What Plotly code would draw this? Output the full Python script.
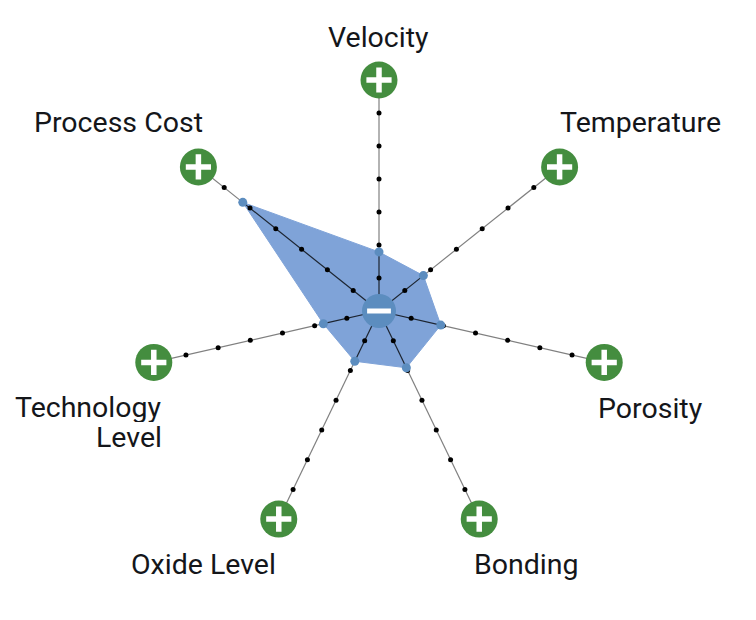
import plotly.graph_objects as go

categories = ["Velocity", "Temperature", "Porosity", "Bonding", "Oxide Level", "Technology Level", "Process Cost"]
values = [1.79, 1.72, 1.92, 1.91, 1.69, 1.73, 5.28]
tick_steps = [1, 2, 3, 4, 5, 6]
outer_level = 7
center_level = 0

W, H = 756, 620
CX, CY, R = 379, 311, 264.0   # centre and radius (px) of the polar area
BLUE_FILL = "#7FA3D8"
BLUE_DARK = "#5C8DBF"
GREEN = "#448D3F"

fig = go.Figure()
fig.add_trace(go.Scatterpolar(
    theta=categories + categories[:1], r=values + values[:1], mode="lines",
    fill="toself", fillcolor=BLUE_FILL, line=dict(color=BLUE_FILL, width=1), hoverinfo="skip"))

for c, v in zip(categories, values):
    fig.add_trace(go.Scatterpolar(theta=[c, c], r=[center_level, v], mode="lines",
                                  line=dict(color="#1c2430", width=1.2), hoverinfo="skip"))
    fig.add_trace(go.Scatterpolar(theta=[c, c], r=[v, outer_level], mode="lines",
                                  line=dict(color="#808080", width=1.2), hoverinfo="skip"))
    fig.add_trace(go.Scatterpolar(theta=[c] * len(tick_steps), r=tick_steps, mode="markers",
                                  marker=dict(color="#000000", size=5), hoverinfo="skip"))

fig.add_trace(go.Scatterpolar(theta=categories, r=values, mode="markers",
                              marker=dict(color=BLUE_DARK, size=9), hovertemplate="%{theta}: %{r}<extra></extra>"))

# centre minus badge
fig.add_trace(go.Scatterpolar(theta=categories[:1], r=[center_level], mode="markers",
                              marker=dict(color=BLUE_DARK, size=34), hoverinfo="skip"))
fig.add_trace(go.Scatterpolar(theta=categories[:1], r=[center_level], mode="markers",
                              marker=dict(symbol="line-ew", size=17, line=dict(color="white", width=5)), hoverinfo="skip"))

# outer plus badges
fig.add_trace(go.Scatterpolar(theta=categories, r=[outer_level] * 7, mode="markers",
                              marker=dict(color=GREEN, size=37), hoverinfo="skip"))
fig.add_trace(go.Scatterpolar(theta=categories, r=[outer_level] * 7, mode="markers",
                              marker=dict(symbol="cross-thin", size=18, line=dict(color="white", width=5.5)), hoverinfo="skip"))

label_pos = [
    ("Velocity", 379, 37, "center", None),
    ("Temperature", 640, 123, "center", None),
    ("Porosity", 650, 408, "center", None),
    ("Bonding", 526, 564, "center", None),
    ("Oxide Level", 203, 564, "center", None),
    ("Technology", 162, 407, "right", 29),
    ("Level", 162, 437, "right", 29),
    ("Process Cost", 118, 123, "center", None),
]
for text, x, y, align, box_h in label_pos:
    fig.add_annotation(xref="paper", yref="paper", x=x / W, y=1 - y / H, text=text, showarrow=False,
                       xanchor="right" if align == "right" else "center", yanchor="middle", align=align,
                       height=box_h, borderpad=0, borderwidth=0,
                       font=dict(family="Roboto", size=28.5, color="#14161a"))

fig.update_layout(
    width=W, height=H, showlegend=False, paper_bgcolor="white",
    margin=dict(l=0, r=0, t=0, b=0),
    polar=dict(
        domain=dict(x=[(CX - R) / W, (CX + R) / W], y=[(H - CY - R) / H, (H - CY + R) / H]),
        bgcolor="rgba(0,0,0,0)",
        radialaxis=dict(range=[0, 8], visible=False),
        angularaxis=dict(type="category", categoryorder="array", categoryarray=categories,
                         rotation=90, direction="clockwise", visible=False),
    ),
)
fig.write_html("out.html", config={"displayModeBar": False}, post_script="document.body.style.margin='0';")
